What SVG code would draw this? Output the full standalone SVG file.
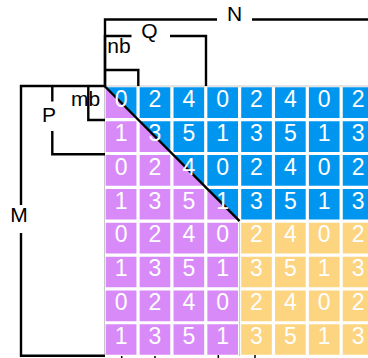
<svg xmlns="http://www.w3.org/2000/svg" width="368" height="358" viewBox="0 0 368 358">
<style>
.br{fill:none;stroke:#000;stroke-width:2.4;stroke-linecap:butt;stroke-linejoin:miter}
.lbl{font-family:"Liberation Sans",Arial,sans-serif;font-size:21px;fill:#000;text-anchor:middle}
.dg{font-family:"Liberation Sans",Arial,sans-serif;font-size:23px;fill:#fff;text-anchor:middle}
.gap{stroke:#fff;stroke-width:3.2}
.edge{fill:none;stroke:#c8c8c8;stroke-width:1}
</style>
<rect width="368" height="358" fill="#fff"/>
<g id="matrix">
  <g id="region-blue"><polygon points="105.7,87.3 376,87.3 376,221.2 239.6,221.2" fill="#0096f0"/></g>
  <g id="region-purple"><polygon points="105.7,87.3 239.6,221.2 239.6,355 105.7,355" fill="#d88af8"/></g>
  <g id="region-yellow"><rect x="239.6" y="221.2" width="136" height="134" fill="#fdd47f"/></g>
  <g id="gaps" class="gap">
    <line x1="138.05" y1="85" x2="138.05" y2="358"/>
    <line x1="171.9" y1="85" x2="171.9" y2="358"/>
    <line x1="205.75" y1="85" x2="205.75" y2="358"/>
    <line x1="239.6" y1="85" x2="239.6" y2="358"/>
    <line x1="273.45" y1="85" x2="273.45" y2="358"/>
    <line x1="307.3" y1="85" x2="307.3" y2="358"/>
    <line x1="341.15" y1="85" x2="341.15" y2="358"/>
    <line x1="104" y1="119.65" x2="368" y2="119.65"/>
    <line x1="104" y1="153.5" x2="368" y2="153.5"/>
    <line x1="104" y1="187.35" x2="368" y2="187.35"/>
    <line x1="104" y1="221.2" x2="368" y2="221.2"/>
    <line x1="104" y1="255.05" x2="368" y2="255.05"/>
    <line x1="104" y1="288.9" x2="368" y2="288.9"/>
    <line x1="104" y1="322.75" x2="368" y2="322.75"/>
    <line x1="104" y1="356.4" x2="368" y2="356.4"/>
  </g>
  <g id="outline" class="edge">
    <path d="M104.5,356.5 V86 H368"/>
    <path d="M239.6,222 V356"/>
  </g>
  <line id="diagonal" x1="104.5" y1="86" x2="239.6" y2="221.2" stroke="#000" stroke-width="2.4"/>
  <g id="digits" class="dg">
    <text x="121.1" y="107">0</text><text x="155" y="107">2</text><text x="188.8" y="107">4</text><text x="222.7" y="107">0</text><text x="256.5" y="107">2</text><text x="290.4" y="107">4</text><text x="324.2" y="107">0</text><text x="358.1" y="107">2</text>
    <text x="121.1" y="140.9">1</text><text x="155" y="140.9">3</text><text x="188.8" y="140.9">5</text><text x="222.7" y="140.9">1</text><text x="256.5" y="140.9">3</text><text x="290.4" y="140.9">5</text><text x="324.2" y="140.9">1</text><text x="358.1" y="140.9">3</text>
    <text x="121.1" y="174.7">0</text><text x="155" y="174.7">2</text><text x="188.8" y="174.7">4</text><text x="222.7" y="174.7">0</text><text x="256.5" y="174.7">2</text><text x="290.4" y="174.7">4</text><text x="324.2" y="174.7">0</text><text x="358.1" y="174.7">2</text>
    <text x="121.1" y="208.6">1</text><text x="155" y="208.6">3</text><text x="188.8" y="208.6">5</text><text x="222.7" y="208.6">1</text><text x="256.5" y="208.6">3</text><text x="290.4" y="208.6">5</text><text x="324.2" y="208.6">1</text><text x="358.1" y="208.6">3</text>
    <text x="121.1" y="242.4">0</text><text x="155" y="242.4">2</text><text x="188.8" y="242.4">4</text><text x="222.7" y="242.4">0</text><text x="256.5" y="242.4">2</text><text x="290.4" y="242.4">4</text><text x="324.2" y="242.4">0</text><text x="358.1" y="242.4">2</text>
    <text x="121.1" y="276.3">1</text><text x="155" y="276.3">3</text><text x="188.8" y="276.3">5</text><text x="222.7" y="276.3">1</text><text x="256.5" y="276.3">3</text><text x="290.4" y="276.3">5</text><text x="324.2" y="276.3">1</text><text x="358.1" y="276.3">3</text>
    <text x="121.1" y="310.1">0</text><text x="155" y="310.1">2</text><text x="188.8" y="310.1">4</text><text x="222.7" y="310.1">0</text><text x="256.5" y="310.1">2</text><text x="290.4" y="310.1">4</text><text x="324.2" y="310.1">0</text><text x="358.1" y="310.1">2</text>
    <text x="121.1" y="344">1</text><text x="155" y="344">3</text><text x="188.8" y="344">5</text><text x="222.7" y="344">1</text><text x="256.5" y="344">3</text><text x="290.4" y="344">5</text><text x="324.2" y="344">1</text><text x="358.1" y="344">3</text>
  </g>
</g>
<g id="connectors">
  <g id="bracket-N">
    <path class="br" d="M105,86 V19.5 H217 M252,19.5 H370"/>
    <text class="lbl" x="234.5" y="20.5">N</text>
  </g>
  <g id="bracket-Q">
    <path class="br" d="M105,86 V36 H131.5 M170,36 H206 V86"/>
    <text class="lbl" x="149.5" y="37.5">Q</text>
  </g>
  <g id="bracket-nb">
    <path class="br" d="M105,70 H138.3 V86"/>
    <text class="lbl" x="119" y="53">nb</text>
  </g>
  <g id="bracket-M">
    <path class="br" d="M105,86 H21 V205 M21,233 V355.7 H105"/>
    <text class="lbl" x="19" y="222">M</text>
  </g>
  <g id="bracket-P">
    <path class="br" d="M52.3,86 V101.5 M52.3,131 V154.3 H105"/>
    <text class="lbl" x="49" y="121.5">P</text>
  </g>
  <g id="bracket-mb">
    <path class="br" d="M88.3,86 V120 H105"/>
    <text class="lbl" x="85.5" y="105.7">mb</text>
  </g>
  <g id="ticks" stroke="#000" stroke-width="1.5">
    <line x1="121.7" y1="356" x2="121.7" y2="358"/>
    <line x1="155" y1="356" x2="155" y2="358"/>
    <line x1="218.3" y1="355" x2="218.3" y2="358"/>
    <line x1="255" y1="355" x2="255" y2="358"/>
  </g>
</g>
</svg>
